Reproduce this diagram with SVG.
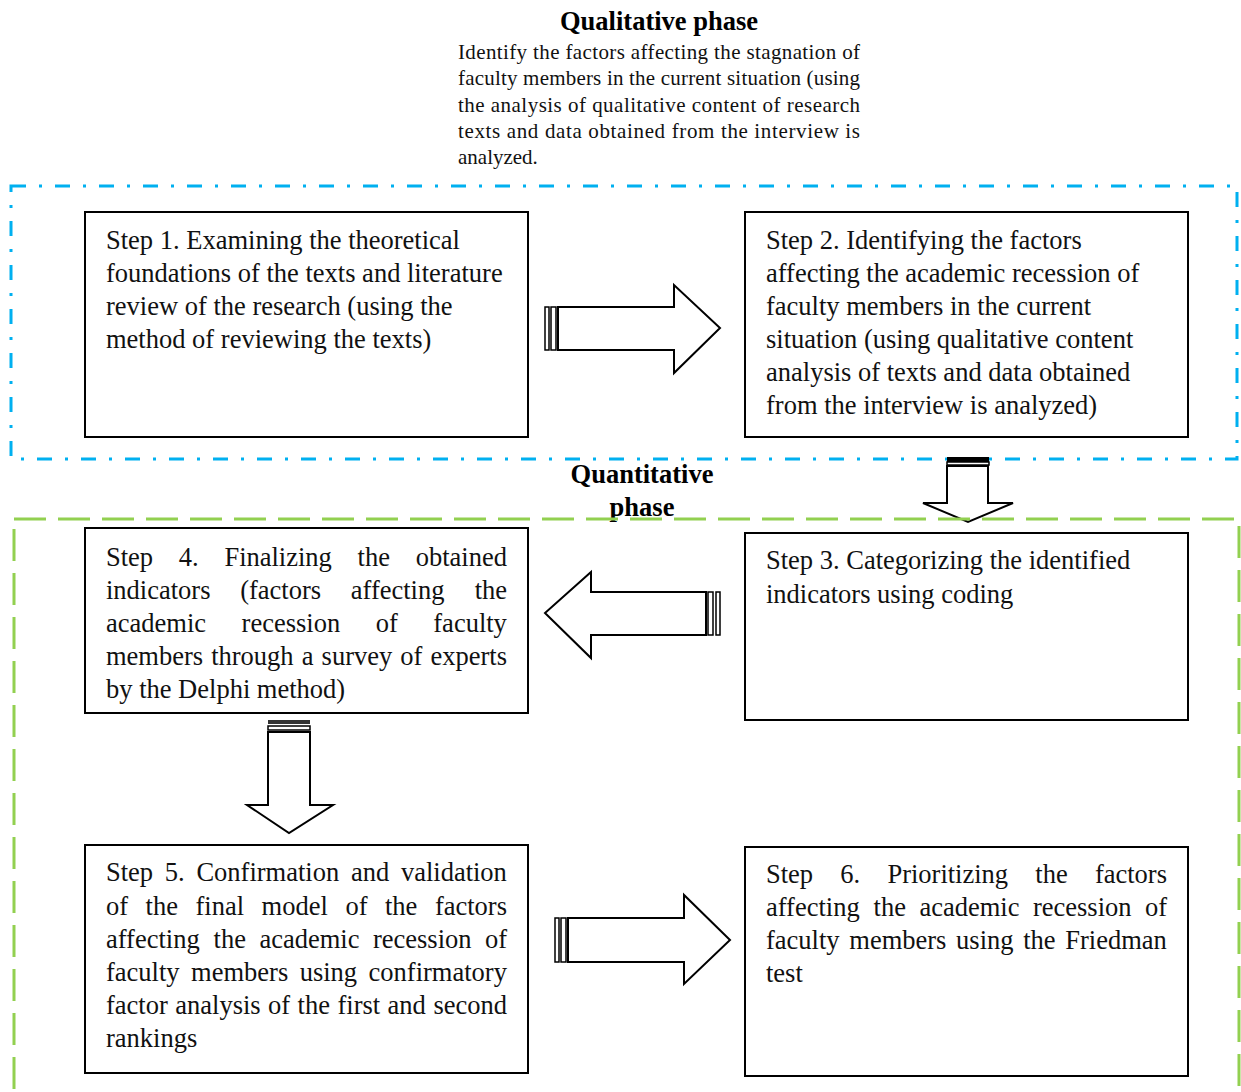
<svg xmlns="http://www.w3.org/2000/svg" width="1241" height="1092" viewBox="0 0 1241 1092">
<style>
  .box { fill: #ffffff; stroke: #000000; stroke-width: 2; }
  .t { font-family: 'Liberation Serif', 'Times New Roman', serif; font-size: 26.5px; fill: #111111; }
  .p { font-family: 'Liberation Serif', 'Times New Roman', serif; font-size: 21px; fill: #111111; }
  .h { font-family: 'Liberation Serif', 'Times New Roman', serif; font-size: 26.5px; font-weight: bold; fill: #000000; }
  .arw { fill: #ffffff; stroke: #000000; stroke-width: 2; stroke-linejoin: miter; }
  .bar { fill: #ffffff; stroke: #000000; stroke-width: 1.5; }
  .blue { fill: none; stroke: #00B0F0; stroke-width: 3; stroke-dasharray: 15 13 3 13; }
  .green { fill: none; stroke: #92D050; stroke-width: 3; stroke-dasharray: 32 12; }
</style>
<rect width="1241" height="1092" fill="#ffffff"/>

<g id="header">
  <text class="h" x="659" y="30" text-anchor="middle">Qualitative phase</text>
  <text class="p" x="458" y="59" textLength="402" lengthAdjust="spacing">Identify the factors affecting the stagnation of</text>
  <text class="p" x="458" y="85" textLength="402" lengthAdjust="spacing">faculty members in the current situation (using</text>
  <text class="p" x="458" y="112" textLength="402" lengthAdjust="spacing">the analysis of qualitative content of research</text>
  <text class="p" x="458" y="138" textLength="402" lengthAdjust="spacing">texts and data obtained from the interview is</text>
  <text class="p" x="458" y="164">analyzed.</text>
</g>

<g id="qualitative-region">
  <rect class="blue" x="11" y="186" width="1226" height="273"/>
</g>

<g id="quantitative-label">
  <text class="h" x="642" y="483" text-anchor="middle">Quantitative</text>
  <text class="h" x="642" y="516" text-anchor="middle">phase</text>
</g>

<g id="step1">
  <rect class="box" x="85" y="212" width="443" height="225"/>
  <text class="t" x="106" y="249">Step 1. Examining the theoretical</text>
  <text class="t" x="106" y="282">foundations of the texts and literature</text>
  <text class="t" x="106" y="315">review of the research (using the</text>
  <text class="t" x="106" y="348">method of reviewing the texts)</text>
</g>

<g id="step2">
  <rect class="box" x="745" y="212" width="443" height="225"/>
  <text class="t" x="766" y="249">Step 2. Identifying the factors</text>
  <text class="t" x="766" y="282">affecting the academic recession of</text>
  <text class="t" x="766" y="315">faculty members in the current</text>
  <text class="t" x="766" y="348">situation (using qualitative content</text>
  <text class="t" x="766" y="381">analysis of texts and data obtained</text>
  <text class="t" x="766" y="414">from the interview is analyzed)</text>
</g>

<g id="step3">
  <rect class="box" x="745" y="533" width="443" height="187"/>
  <text class="t" x="766" y="569">Step 3. Categorizing the identified</text>
  <text class="t" x="766" y="603">indicators using coding</text>
</g>

<g id="step4">
  <rect class="box" x="85" y="528" width="443" height="185"/>
  <text class="t" y="566"><tspan x="106">Step</tspan><tspan x="178.8">4.</tspan><tspan x="224.4">Finalizing</tspan><tspan x="357.6">the</tspan><tspan x="415.7">obtained</tspan></text>
  <text class="t" y="599"><tspan x="106">indicators</tspan><tspan x="240.2">(factors</tspan><tspan x="350.8">affecting</tspan><tspan x="474.7">the</tspan></text>
  <text class="t" y="632"><tspan x="106">academic</tspan><tspan x="241.6">recession</tspan><tspan x="375.7">of</tspan><tspan x="433.3">faculty</tspan></text>
  <text class="t" y="665"><tspan x="106">members</tspan><tspan x="211.2">through</tspan><tspan x="301.7">a</tspan><tspan x="321.6">survey</tspan><tspan x="400.3">of</tspan><tspan x="430.5">experts</tspan></text>
  <text class="t" x="106" y="698">by the Delphi method)</text>
</g>

<g id="step5">
  <rect class="box" x="85" y="845" width="443" height="228"/>
  <text class="t" y="881"><tspan x="106">Step</tspan><tspan x="164.8">5.</tspan><tspan x="196.4">Confirmation</tspan><tspan x="350.9">and</tspan><tspan x="400.9">validation</tspan></text>
  <text class="t" y="915"><tspan x="106">of</tspan><tspan x="145.6">the</tspan><tspan x="195.5">final</tspan><tspan x="261.6">model</tspan><tspan x="345.4">of</tspan><tspan x="385">the</tspan><tspan x="434.9">factors</tspan></text>
  <text class="t" y="948"><tspan x="106">affecting</tspan><tspan x="213.6">the</tspan><tspan x="259.4">academic</tspan><tspan x="372.9">recession</tspan><tspan x="484.9">of</tspan></text>
  <text class="t" y="981"><tspan x="106">faculty</tspan><tspan x="191.1">members</tspan><tspan x="299.7">using</tspan><tspan x="368.6">confirmatory</tspan></text>
  <text class="t" y="1014"><tspan x="106">factor</tspan><tspan x="175.3">analysis</tspan><tspan x="268.1">of</tspan><tspan x="297.6">the</tspan><tspan x="337.5">first</tspan><tspan x="387.6">and</tspan><tspan x="433.4">second</tspan></text>
  <text class="t" x="106" y="1047">rankings</text>
</g>

<g id="step6">
  <rect class="box" x="745" y="847" width="443" height="229"/>
  <text class="t" y="883"><tspan x="766">Step</tspan><tspan x="840.3">6.</tspan><tspan x="887.4">Prioritizing</tspan><tspan x="1035.3">the</tspan><tspan x="1094.9">factors</tspan></text>
  <text class="t" y="916"><tspan x="766">affecting</tspan><tspan x="873.6">the</tspan><tspan x="919.4">academic</tspan><tspan x="1032.9">recession</tspan><tspan x="1144.9">of</tspan></text>
  <text class="t" y="949"><tspan x="766">faculty</tspan><tspan x="849.3">members</tspan><tspan x="956.1">using</tspan><tspan x="1023.2">the</tspan><tspan x="1065.3">Friedman</tspan></text>
  <text class="t" x="766" y="982">test</text>
</g>

<g id="connectors">
  <g>
    <rect class="bar" x="545" y="307" width="4" height="43"/>
    <rect class="bar" x="551" y="307" width="5" height="43"/>
    <path class="arw" d="M558 307 H674 V285 L720 328 L674 373 V350 H558 Z"/>
  </g>
  <g>
    <path class="arw" d="M947 466 H988 V503 H1013 L968 522 L923 503 H947 Z"/>
    <rect x="947" y="457" width="42" height="5" fill="#000000"/>
    <rect class="bar" x="947" y="462" width="42" height="3"/>
  </g>
  <g>
    <rect class="bar" x="708" y="592" width="5" height="43"/>
    <rect class="bar" x="716" y="592" width="4" height="43"/>
    <path class="arw" d="M706 592 H591 V572 L545 613 L591 658 V635 H706 Z"/>
  </g>
  <g>
    <rect x="268" y="720" width="42" height="4" fill="#333333"/>
    <rect class="bar" x="268" y="726" width="42" height="4"/>
    <path class="arw" d="M268 732 H310 V805 H333 L289 833 L247 805 H268 Z"/>
  </g>
  <g>
    <rect class="bar" x="555" y="918" width="4" height="44"/>
    <rect class="bar" x="561" y="918" width="5" height="44"/>
    <path class="arw" d="M568 918 H684 V895 L730 940 L684 984 V962 H568 Z"/>
  </g>
</g>

<g id="quantitative-region">
  <rect class="green" x="14" y="519" width="1225" height="600"/>
</g>
</svg>
